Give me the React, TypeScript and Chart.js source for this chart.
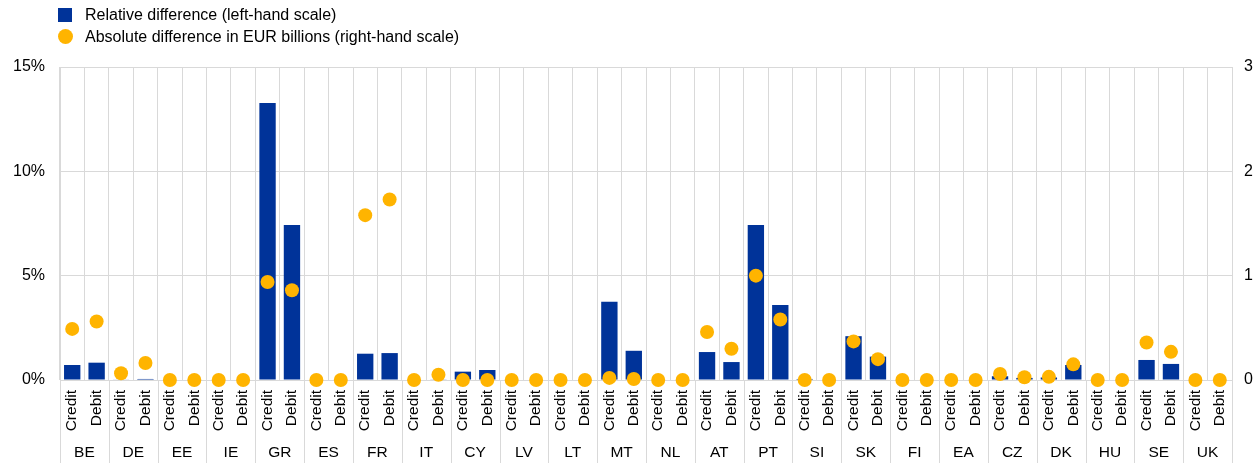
import React, { useEffect, useRef } from "react";
import { Chart, registerables } from "chart.js";

Chart.register(...registerables);

const countries = ["BE", "DE", "EE", "IE", "GR", "ES", "FR", "IT", "CY", "LV", "LT", "MT", "NL", "AT", "PT", "SI", "SK", "FI", "EA", "CZ", "DK", "HU", "SE", "UK"];
const flowTypes = ["Credit", "Debit"];

// Relative difference (%), left-hand scale: Credit, Debit per country
const relativeDiff = [
  0.72, 0.83, // BE
  0.02, 0.05, // DE
  0, 0, // EE
  0, 0, // IE
  13.27, 7.43, // GR
  0, 0, // ES
  1.26, 1.29, // FR
  0, 0.03, // IT
  0.4, 0.48, // CY
  0, 0, // LV
  0, 0, // LT
  3.75, 1.4, // MT
  0, 0, // NL
  1.34, 0.86, // AT
  7.43, 3.59, // PT
  0.05, 0, // SI
  2.1, 1.12, // SK
  0, 0, // FI
  0, 0, // EA
  0.18, 0.1, // CZ
  0.12, 0.72, // DK
  0, 0, // HU
  0.96, 0.77, // SE
  0, 0, // UK
];

// Absolute difference in EUR billions, right-hand scale
const absoluteDiff = [
  0.49, 0.56, // BE
  0.064, 0.163, // DE
  0, 0, // EE
  0, 0, // IE
  0.94, 0.86, // GR
  0, 0, // ES
  1.58, 1.73, // FR
  0, 0.05, // IT
  0, 0, // CY
  0, 0, // LV
  0, 0, // LT
  0.02, 0.01, // MT
  0, 0, // NL
  0.46, 0.3, // AT
  1.0, 0.58, // PT
  0, 0, // SI
  0.37, 0.2, // SK
  0, 0, // FI
  0, 0, // EA
  0.058, 0.026, // CZ
  0.03, 0.15, // DK
  0, 0, // HU
  0.36, 0.27, // SE
  0, 0, // UK
];

const leftTicks = [0, 5, 10, 15];
const rightTicks = [0, 1, 2, 3];

const legendLabels = ["Relative difference (left-hand scale)", "Absolute difference in EUR billions (right-hand scale)"];

const BLUE = "#003399";
const ORANGE = "#FFB400";
const GRID = "#d9d9d9";
const FONT = "Arial, 'Liberation Sans', sans-serif";

export default function App() {
  const canvasRef = useRef<HTMLCanvasElement | null>(null);

  useEffect(() => {
    const labels: string[] = [];
    countries.forEach(() => flowTypes.forEach((f) => labels.push(f)));

    const countryPlugin = {
      id: "countryLabels",
      afterDraw(chart: any) {
        const x = chart.scales.x;
        const ctx = chart.ctx;
        const area = chart.chartArea;
        const half = (x.getPixelForValue(1) - x.getPixelForValue(0)) / 2;
        ctx.save();
        ctx.strokeStyle = GRID;
        ctx.lineWidth = 1;
        for (let i = 0; i <= countries.length; i++) {
          const px = Math.round(i < countries.length ? x.getPixelForValue(i * 2) - half : x.getPixelForValue(i * 2 - 1) + half) + 0.5;
          ctx.beginPath();
          ctx.moveTo(px, area.bottom);
          ctx.lineTo(px, chart.height);
          ctx.stroke();
        }
        ctx.fillStyle = "#000";
        ctx.font = `15.5px ${FONT}`;
        ctx.textAlign = "center";
        ctx.textBaseline = "middle";
        countries.forEach((c, i) => {
          const cx = (x.getPixelForValue(i * 2) + x.getPixelForValue(i * 2 + 1)) / 2;
          ctx.fillText(c, cx, 453);
        });
        ctx.restore();
      },
    };

    const chart = new Chart(canvasRef.current as HTMLCanvasElement, {
      type: "bar",
      data: {
        labels,
        datasets: [
          {
            type: "line",
            label: legendLabels[1],
            data: absoluteDiff,
            yAxisID: "y1",
            showLine: false,
            pointRadius: 7,
            pointHoverRadius: 7,
            pointBackgroundColor: ORANGE,
            pointBorderColor: ORANGE,
            pointBorderWidth: 0,
            backgroundColor: ORANGE,
            borderColor: ORANGE,
            clip: false,
            order: 0,
          } as any,
          {
            type: "bar",
            label: legendLabels[0],
            data: relativeDiff,
            yAxisID: "y",
            backgroundColor: BLUE,
            borderWidth: 0,
            barPercentage: 0.67,
            categoryPercentage: 1,
            order: 1,
          },
        ],
      },
      options: {
        animation: false,
        responsive: false,
        layout: { padding: { top: 67, left: 0, right: 0, bottom: 0 } },
        plugins: {
          legend: { display: false },
          tooltip: { enabled: false },
        },
        scales: {
          x: {
            offset: true,
            grid: { color: GRID, drawTicks: false, offset: true },
            border: { color: GRID },
            ticks: {
              autoSkip: false,
              minRotation: 90,
              maxRotation: 90,
              padding: 10,
              color: "#000",
              font: { family: FONT, size: 15.5 },
            },
            afterFit(scale: any) {
              scale.height = 83;
            },
          },
          y: {
            position: "left",
            min: 0,
            max: 15,
            afterBuildTicks(scale: any) {
              scale.ticks = leftTicks.map((v) => ({ value: v }));
            },
            grid: { color: GRID, drawTicks: false },
            border: { color: GRID },
            ticks: {
              padding: 15,
              color: "#000",
              font: { family: FONT, size: 16 },
              callback: (v: any) => `${v}%`,
            },
            afterFit(scale: any) {
              scale.width = 60;
            },
          },
          y1: {
            position: "right",
            min: 0,
            max: 3,
            afterBuildTicks(scale: any) {
              scale.ticks = rightTicks.map((v) => ({ value: v }));
            },
            grid: { drawOnChartArea: false, drawTicks: false },
            border: { display: false },
            ticks: {
              padding: 12,
              color: "#000",
              font: { family: FONT, size: 16 },
            },
            afterFit(scale: any) {
              scale.width = 26;
            },
          },
        },
      },
      plugins: [countryPlugin],
    });
    return () => chart.destroy();
  }, []);

  return (
    <div style={{ position: "fixed", left: 0, top: 0, width: 1258, height: 463, background: "#fff", fontFamily: FONT }}>
      <canvas ref={canvasRef} width={1258} height={463} style={{ position: "absolute", left: 0, top: 0 }} />
      <div style={{ position: "absolute", left: 58, top: 8, width: 14, height: 14, background: BLUE }} />
      <div style={{ position: "absolute", left: 85, top: 5, fontSize: 16, lineHeight: "20px", color: "#000", whiteSpace: "nowrap" }}>{legendLabels[0]}</div>
      <div style={{ position: "absolute", left: 58, top: 29, width: 15, height: 15, borderRadius: "50%", background: ORANGE }} />
      <div style={{ position: "absolute", left: 85, top: 27, fontSize: 16, lineHeight: "20px", color: "#000", whiteSpace: "nowrap" }}>{legendLabels[1]}</div>
    </div>
  );
}
